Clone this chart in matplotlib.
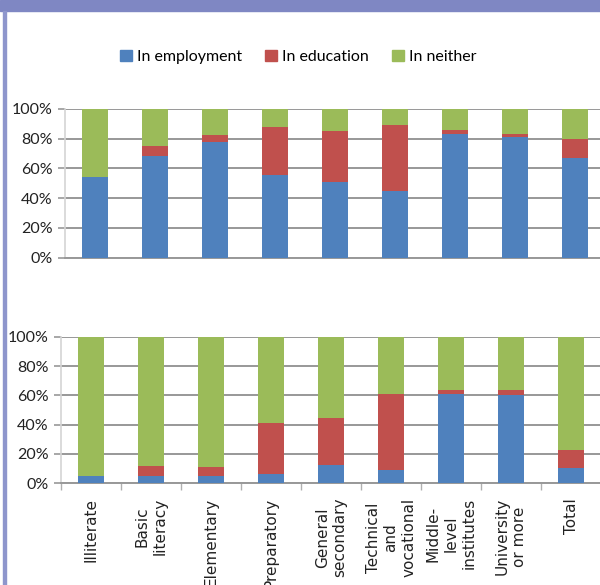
import numpy as np
import matplotlib
matplotlib.use("Agg")
import matplotlib.pyplot as plt
from matplotlib.patches import Rectangle

categories = ["Illiterate", "Basic\nliteracy", "Elementary", "Preparatory",
              "General\nsecondary", "Technical\nand\nvocational",
              "Middle-\nlevel\ninstitutes", "University\nor more", "Total"]
series = ["In employment", "In education", "In neither"]
colors = ["#4F81BD", "#C0504D", "#9BBB59"]

# top panel (percent)
top_emp = [54.3, 68.4, 77.8, 55.6, 50.7, 44.8, 83.0, 81.2, 67.0]
top_edu = [0.0, 6.7, 4.7, 32.3, 34.5, 44.4, 2.9, 2.0, 13.0]
top_nei = [45.7, 24.9, 17.5, 12.1, 14.8, 10.8, 14.1, 16.8, 20.0]

# bottom panel (percent)
bot_emp = [5.0, 5.0, 5.0, 6.4, 12.3, 9.1, 60.9, 60.0, 10.4]
bot_edu = [0.0, 6.8, 6.1, 34.5, 32.2, 51.8, 2.7, 3.6, 12.3]
bot_nei = [95.0, 88.2, 88.9, 59.1, 55.5, 39.1, 36.4, 36.4, 77.3]

yticks = [0, 20, 40, 60, 80, 100]
ytick_labels = ["0%", "20%", "40%", "60%", "80%", "100%"]

W, H = 600, 585
fig = plt.figure(figsize=(W / 100, H / 100), dpi=100)

# frame decoration
fig.patches.append(Rectangle((0, 1 - 11 / H), 1, 11 / H, transform=fig.transFigure,
                             color="#7F87C3", zorder=0))
fig.patches.append(Rectangle((3 / W, 0), 2.5 / W, 1 - 11 / H, transform=fig.transFigure,
                             color="#8E96CC", zorder=0))

grid_c = "#989898"


def panel(rect, emp, edu, nei, show_x):
    ax = fig.add_axes(rect)
    x = np.arange(len(categories))
    b1 = np.array(emp)
    b2 = b1 + np.array(edu)
    ax.bar(x, emp, width=0.42, color=colors[0], zorder=3)
    ax.bar(x, edu, width=0.42, bottom=b1, color=colors[1], zorder=3)
    ax.bar(x, nei, width=0.42, bottom=b2, color=colors[2], zorder=3)
    ax.set_xlim(-0.5, len(categories) - 0.5)
    ax.set_ylim(0, 100)
    ax.set_yticks(yticks)
    ax.set_yticklabels(ytick_labels, family="Lato", fontsize=11.5, color="#222222")
    ax.yaxis.grid(True, color=grid_c, linewidth=1.4, zorder=0)
    ax.tick_params(axis="y", length=5, width=1.2, color=grid_c, pad=4)
    for s in ["top", "right"]:
        ax.spines[s].set_visible(False)
    ax.spines["left"].set_color("#d4d4d4")
    ax.spines["left"].set_linewidth(1.2)
    ax.spines["bottom"].set_color(grid_c)
    ax.spines["bottom"].set_linewidth(1.4)
    if show_x:
        ax.set_xticks(np.arange(len(categories) + 1) - 0.5, minor=False)
        ax.set_xticklabels([])
        ax.set_xticks(x, minor=True)
        ax.set_xticklabels(categories, minor=True, rotation=90, family="DejaVu Sans",
                           fontsize=11, color="#222222", linespacing=1.22,
                           multialignment="center")
        ax.tick_params(axis="x", which="major", length=5, width=1.0, color="#b0b0b0")
        ax.tick_params(axis="x", which="minor", length=0, pad=10.5)
    else:
        ax.set_xticks([])
    return ax


panel([65 / W, 1 - 257.7 / H, 540 / W, 148.7 / H], top_emp, top_edu, top_nei, False)
panel([61 / W, 1 - 483.3 / H, 540 / W, 146.6 / H], bot_emp, bot_edu, bot_nei, True)

handles = [Rectangle((0, 0), 1, 1, color=c) for c in colors]
fig.legend(handles, series, loc="center", bbox_to_anchor=(298 / W, 1 - 57 / H),
           ncol=3, frameon=False, handlelength=0.75, handleheight=0.75,
           handletextpad=0.3, columnspacing=1.45,
           prop={"family": "Lato", "size": 11.5})

fig.savefig("out.png", dpi=100)
